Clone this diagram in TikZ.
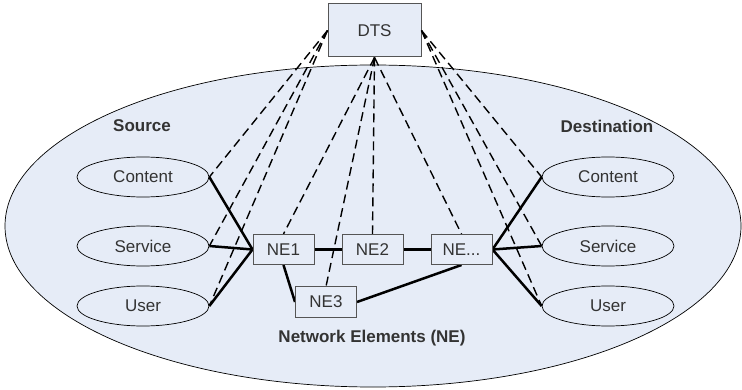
\documentclass[tikz,border=0pt]{standalone}
\usepackage{fontspec}
\setmainfont{Liberation Sans}
\usetikzlibrary{shapes.geometric}
\definecolor{fillblue}{HTML}{E6ECF7}
\definecolor{txt}{HTML}{333333}
\definecolor{boxline}{HTML}{555555}
\begin{document}
\begin{tikzpicture}[x=1pt,y=-1pt,
  oval/.style={ellipse,draw=black,line width=0.7pt,fill=fillblue,minimum width=132pt,minimum height=40pt,inner sep=0pt,font=\fontsize{17}{19}\selectfont,text=txt},
  nebox/.style={rectangle,draw=boxline,line width=1pt,fill=fillblue,minimum width=61pt,minimum height=30pt,inner sep=0pt,font=\fontsize{17}{19}\selectfont,text=txt},
  lbl/.style={font=\bfseries\fontsize{17}{19}\selectfont,text=txt},
  solidc/.style={line width=2.5pt,black},
  dashc/.style={line width=1.4pt,black,dash pattern=on 9pt off 5pt}]
\useasboundingbox (0,0) rectangle (742,390);
\fill[fillblue] (373,226) ellipse [x radius=368, y radius=161];
\draw[line width=0.7pt] (373,226) ellipse [x radius=368, y radius=161];
\node[nebox,minimum width=93pt,minimum height=53pt] (dts) at (374.5,30.5) {DTS};
\node[lbl] (src) at (142,126) {Source};
\node[lbl] (dst) at (607,126) {Destination};
\node[lbl] (nel) at (372,338) {Network Elements (NE)};
\node[oval] (lc) at (143,177) {Content};
\node[oval] (ls) at (143,246) {Service};
\node[oval] (lu) at (143,306) {User};
\node[oval] (rc) at (608,177) {Content};
\node[oval] (rs) at (608,246) {Service};
\node[oval] (ru) at (608,306) {User};
\node[nebox] (ne1) at (283.5,249.5) {NE1};
\node[nebox] (ne2) at (372.5,249.5) {NE2};
\node[nebox] (nex) at (461.5,249.5) {NE...};
\node[nebox] (ne3) at (326,302) {NE3};
% dashed control links
\foreach \n in {lc,ls,lu} \draw[dashc] (dts.west) -- (\n.east);
\foreach \n in {rc,rs,ru} \draw[dashc] (dts.east) -- (\n.west);
\foreach \n in {ne1,ne2,nex} \draw[dashc] (dts.south) -- (\n.north);
\draw[dashc] (dts.south) -- (ne3.north);
% solid data links
\foreach \n in {lc,ls,lu} \draw[solidc] (\n.east) -- (ne1.west);
\foreach \n in {rc,rs,ru} \draw[solidc] (nex.east) -- (\n.west);
\draw[solidc] (ne1) -- (ne2);
\draw[solidc] (ne2) -- (nex);
\draw[solidc] (ne1.south) -- (ne3.west);
\draw[solidc] (ne3.east) -- (nex.south);
% redraw boxes on top
\node[nebox] at (ne1) {NE1};
\node[nebox] at (ne2) {NE2};
\node[nebox] at (nex) {NE...};
\node[nebox] at (ne3) {NE3};
\end{tikzpicture}
\end{document}
